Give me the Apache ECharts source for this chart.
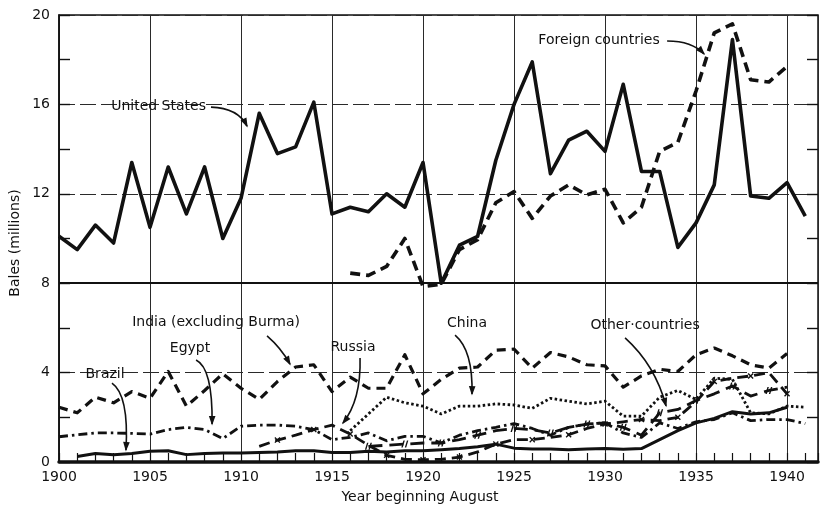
<!DOCTYPE html>
<html>
<head>
<meta charset="utf-8">
<script src="https://cdn.jsdelivr.net/npm/echarts@6/dist/echarts.min.js"></script>
<style>
  html, body { margin: 0; padding: 0; background: #fff; }
  #chart { width: 826px; height: 506px; }
</style>
</head>
<body>
<div id="chart"></div>
<script>
// Cotton production, millions of bales, by crop year (beginning August)
const usStart = 1900;
const usBales = [10.1, 9.5, 10.6, 9.8, 13.4, 10.5, 13.2, 11.1, 13.2, 10.0,
                 11.8, 15.6, 13.8, 14.1, 16.1, 11.1, 11.4, 11.2, 12.0, 11.4,
                 13.4, 8.0, 9.7, 10.1, 13.5, 16.0, 17.9, 12.9, 14.4, 14.8,
                 13.9, 16.9, 13.0, 13.0, 9.6, 10.7, 12.4, 18.9, 11.9, 11.8,
                 12.5, 11.0];

const foreignStart = 1916;
const foreignBales = [8.45, 8.35, 8.75, 10.0,
                      7.85, 7.95, 9.5, 9.95, 11.6, 12.1, 10.9, 11.9, 12.4, 11.95,
                      12.2, 10.7, 11.4, 13.9, 14.3, 16.6, 19.2, 19.6, 17.1, 17.0,
                      17.7];

const indiaStart = 1900;
const indiaBales = [2.45, 2.2, 2.9, 2.65, 3.15, 2.85, 4.05, 2.5, 3.2, 3.95,
                    3.3, 2.8, 3.6, 4.25, 4.35, 3.15, 3.8, 3.3, 3.3, 4.8,
                    3.05, 3.7, 4.2, 4.25, 5.0, 5.05, 4.2, 4.9, 4.7, 4.35,
                    4.3, 3.35, 3.85, 4.15, 4.05, 4.8, 5.1, 4.75, 4.35, 4.2,
                    4.85];

const egyptStart = 1900;
const egyptBales = [1.13, 1.22, 1.3, 1.3, 1.28, 1.25, 1.45, 1.55, 1.45, 1.05,
                    1.6, 1.65, 1.65, 1.6, 1.45, 1.0, 1.1, 1.3, 0.95, 1.15,
                    1.15, 0.85, 1.2, 1.4, 1.55, 1.72, 1.5, 1.2, 1.55, 1.7,
                    1.75, 1.3, 1.1, 1.75, 1.5, 1.8, 1.9, 2.2, 1.85, 1.9,
                    1.9, 1.72];

const brazilStart = 1901;
const brazilBales = [0.25, 0.38, 0.32, 0.38, 0.48, 0.5, 0.33, 0.38, 0.4,
                     0.4, 0.42, 0.45, 0.5, 0.5, 0.42, 0.42, 0.48, 0.45, 0.5,
                     0.5, 0.55, 0.6, 0.68, 0.8, 0.62, 0.58, 0.58, 0.55, 0.58,
                     0.6, 0.57, 0.6, 1.0, 1.4, 1.75, 1.95, 2.25, 2.15, 2.2,
                     2.45];

const russiaStart = 1911;
const russiaBales = [0.7, 0.98, 1.2, 1.45, 1.65, 1.25, 0.75, 0.3, 0.12,
                     0.1, 0.12, 0.22, 0.45, 0.8, 1.0, 1.0, 1.1, 1.22, 1.5,
                     1.7, 1.8, 1.9, 1.85, 2.0, 2.7, 3.6, 3.75, 3.85, 4.0,
                     3.05];

const chinaStart = 1916;
const chinaBales = [1.4, 2.15, 2.9, 2.65,
                    2.5, 2.15, 2.5, 2.5, 2.6, 2.55, 2.4, 2.85, 2.72, 2.6,
                    2.72, 2.05, 2.05, 2.9, 3.2, 2.8, 3.75, 3.7, 2.2, 2.15,
                    2.5, 2.45];

const otherStart = 1917;
const otherBales = [0.7, 0.75, 0.8,
                    0.85, 0.85, 1.0, 1.2, 1.4, 1.5, 1.45, 1.3, 1.55, 1.7,
                    1.75, 1.55, 1.2, 2.2, 2.35, 2.75, 3.05, 3.4, 2.95, 3.2,
                    3.35];

const yearLabelStep = 5;
const baleTicks = [0, 4, 8, 12, 16, 20];

// Series labels with leader arrows, positioned in (year, bales) coordinates
const notes = [
  { text: 'United States', at: [1905.47, 15.93], from: [1908.35, 15.88], via: [1909.84, 15.84], to: [1910.33, 15.03] },
  { text: 'Foreign countries', at: [1929.67, 18.88], from: [1933.41, 18.84], via: [1934.78, 18.84], to: [1935.44, 18.26] },
  { text: 'India (excluding Burma)', at: [1908.63, 6.26], from: [1911.43, 5.64], via: [1912.2, 5.1], to: [1912.69, 4.38] },
  { text: 'Egypt', at: [1907.2, 5.10], from: [1907.53, 4.56], via: [1908.45, 4.2], to: [1908.41, 1.70] },
  { text: 'Brazil', at: [1902.53, 3.94], from: [1902.91, 3.53], via: [1903.85, 3.0], to: [1903.68, 0.54] },
  { text: 'Russia', at: [1916.15, 5.15], from: [1916.54, 4.65], via: [1916.6, 2.77], to: [1915.6, 1.74] },
  { text: 'China', at: [1922.42, 6.22], from: [1921.76, 5.68], via: [1922.75, 5.0], to: [1922.69, 3.04] },
  { text: 'Other\u00b7countries', at: [1932.2, 6.13], from: [1931.1, 5.55], via: [1932.75, 4.34], to: [1933.35, 2.51] }
];

const INK = '#111';
const FONT = '"DejaVu Sans", "Liberation Sans", sans-serif';

const CROSS = 'path://M0,1.6L1.6,0L5,3.4L8.4,0L10,1.6L6.6,5L10,8.4L8.4,10L5,6.6L1.6,10L0,8.4L3.4,5Z';
const DITTO = 'path://M1,10L4,0L6,0L3,10ZM6,10L9,0L11,0L8,10Z';

function pairs(start, values) {
  return values.map((v, i) => [start + i, v]);
}
function withMarks(start, values, path, every, phase) {
  return values.map((v, i) => ({
    value: [start + i, v],
    symbol: (i % every === phase) ? path : 'none'
  }));
}
function lineSeries(name, data, width, dash, extra) {
  return Object.assign({
    name: name,
    type: 'line',
    data: data,
    xAxisIndex: 0,
    yAxisIndex: 0,
    symbol: 'none',
    showSymbol: false,
    smooth: false,
    connectNulls: false,
    silent: true,
    lineStyle: { color: INK, width: width, type: dash, cap: 'butt', join: 'round' },
    itemStyle: { color: INK },
    z: 5
  }, extra || {});
}

const chart = echarts.init(document.getElementById('chart'), null, { renderer: 'canvas' });

const option = {
  animation: false,
  backgroundColor: '#fff',
  textStyle: { fontFamily: FONT },
  grid: {
    left: 59, right: 8, top: 15, bottom: 44,
    show: true, borderColor: INK, borderWidth: 1.5,
    outerBoundsMode: 'none'
  },
  xAxis: [
    {
      type: 'value', min: 1900, max: 1941.7, interval: yearLabelStep,
      position: 'bottom',
      axisLine: { show: true, onZero: false, lineStyle: { color: INK, width: 3.5 } },
      axisTick: { show: false },
      axisLabel: {
        margin: 8, color: INK, fontSize: 14, fontFamily: FONT,
        formatter: v => (Number.isInteger(v) && v % yearLabelStep === 0) ? String(v) : ''
      },
      splitLine: { show: true, lineStyle: { color: '#2a2a2a', width: 1, type: 'solid' } }
    },
    {
      type: 'value', min: 1900, max: 1941.7, interval: 1,
      position: 'bottom',
      axisLine: { show: false },
      axisTick: { show: true, inside: true, length: 9, lineStyle: { color: INK, width: 1.2 } },
      axisLabel: { show: false },
      splitLine: { show: false }
    }
  ],
  yAxis: [
    {
      type: 'value', min: baleTicks[0], max: baleTicks[baleTicks.length - 1], interval: 4,
      position: 'left',
      axisLine: { show: true, onZero: false, lineStyle: { color: INK, width: 1.6 } },
      axisTick: { show: true, inside: true, length: 11, lineStyle: { color: INK, width: 1.4 } },
      minorTick: { show: true, splitNumber: 2, length: 11, lineStyle: { color: INK, width: 1.4 } },
      axisLabel: { margin: 9, color: INK, fontSize: 14, fontFamily: FONT },
      splitLine: { show: true, lineStyle: { color: '#2a2a2a', width: 1, type: [16, 5] } }
    },
    {
      type: 'value', min: baleTicks[0], max: baleTicks[baleTicks.length - 1], interval: 4,
      position: 'right',
      axisLine: { show: false },
      axisTick: { show: true, inside: true, length: 11, lineStyle: { color: INK, width: 1.4 } },
      minorTick: { show: true, splitNumber: 2, length: 11, lineStyle: { color: INK, width: 1.4 } },
      axisLabel: { show: false },
      splitLine: { show: false }
    }
  ],
  series: [
    lineSeries('United States', pairs(usStart, usBales), 3.6, 'solid', {
      z: 6,
      markLine: {
        silent: true, symbol: ['none', 'none'],
        label: { show: false },
        lineStyle: { color: INK, width: 2, type: 'solid' },
        data: [{ yAxis: 8 }]
      }
    }),
    lineSeries('Foreign countries', pairs(foreignStart, foreignBales), 3.6, [10, 6]),
    lineSeries('India (excluding Burma)', pairs(indiaStart, indiaBales), 3.2, [9, 6]),
    lineSeries('China', pairs(chinaStart, chinaBales), 2.8, [2.5, 2.5]),
    lineSeries('Egypt', pairs(egyptStart, egyptBales), 2.8, [9, 4, 2.5, 4]),
    lineSeries('Russia', withMarks(russiaStart, russiaBales, CROSS, 2, 1), 2.8, [11, 6], {
      symbol: CROSS, showSymbol: true, showAllSymbol: true, symbolSize: 6
    }),
    lineSeries('Other countries', withMarks(otherStart, otherBales, DITTO, 2, 0), 2.8, [14, 7], {
      symbol: DITTO, showSymbol: true, showAllSymbol: true, symbolSize: [7, 7]
    }),
    lineSeries('Brazil', pairs(brazilStart, brazilBales), 3.0, 'solid')
  ]
};

chart.setOption(option);

// Leader labels, axis titles
function toPx(p) {
  return chart.convertToPixel({ xAxisIndex: 0, yAxisIndex: 0 }, p);
}
const graphics = [];
notes.forEach(n => {
  const c = toPx(n.at), a = toPx(n.from), b = toPx(n.via), e = toPx(n.to);
  graphics.push({
    type: 'text', x: c[0], y: c[1], z: 20,
    style: { text: n.text, font: '14px ' + FONT, fill: INK, align: 'center', verticalAlign: 'middle' }
  });
  graphics.push({
    type: 'bezierCurve', z: 20,
    shape: { x1: a[0], y1: a[1], cpx1: b[0], cpy1: b[1], x2: e[0], y2: e[1] },
    style: { stroke: INK, lineWidth: 1.6, fill: 'none' }
  });
  const ang = Math.atan2(e[1] - b[1], e[0] - b[0]);
  const L = 8, W = 3.3;
  const bx = e[0] - L * Math.cos(ang), by = e[1] - L * Math.sin(ang);
  graphics.push({
    type: 'polygon', z: 20,
    shape: { points: [[e[0] + 1.5 * Math.cos(ang), e[1] + 1.5 * Math.sin(ang)],
                      [bx + W * Math.sin(ang), by - W * Math.cos(ang)],
                      [bx - W * Math.sin(ang), by + W * Math.cos(ang)]] },
    style: { fill: INK }
  });
});
graphics.push({
  type: 'text', x: 15, y: 243, rotation: Math.PI / 2, z: 20,
  style: { text: 'Bales (millions)', font: '14px ' + FONT, fill: INK, align: 'center', verticalAlign: 'middle' }
});
graphics.push({
  type: 'text', x: 420, y: 497, z: 20,
  style: { text: 'Year beginning August', font: '14px ' + FONT, fill: INK, align: 'center', verticalAlign: 'middle' }
});
chart.setOption({ graphic: graphics });
</script>
</body>
</html>
